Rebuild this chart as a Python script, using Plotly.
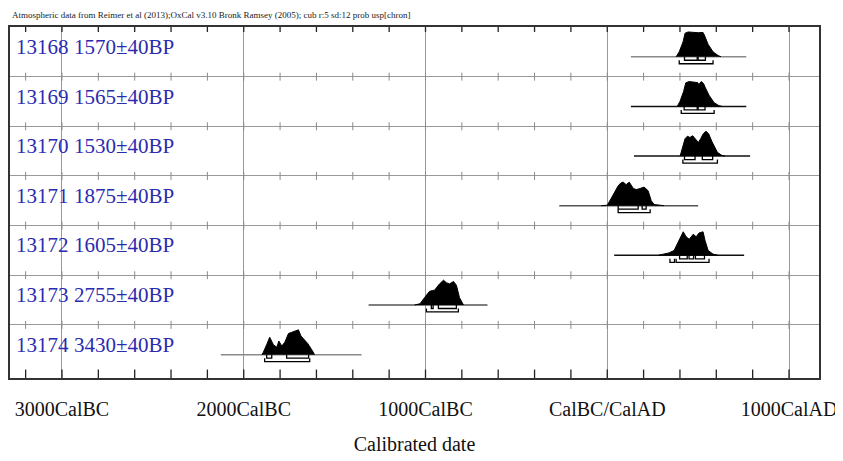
import numpy as np
import plotly.graph_objects as go

# ---------------- data ----------------
lab_ids = ["13168", "13169", "13170", "13171", "13172", "13173", "13174"]
bp_dates = ["1570±40BP", "1565±40BP", "1530±40BP", "1875±40BP", "1605±40BP", "2755±40BP", "3430±40BP"]

# plotted range of each calibration (baseline), calendar years (negative = BC)
plot_start = [130, 130, 147, -264, 38, -1313, -2126]
plot_end = [765, 765, 786, 500, 753, -659, -1352]

# probability distributions (relative heights)
dist_years = [
    [379, 396, 417, 428, 445, 472, 500, 527, 533, 555, 582, 610, 626],
    [385, 400, 420, 432, 450, 475, 498, 505, 510, 518, 530, 540, 560, 588, 615, 632],
    [401, 416, 428, 441, 455, 470, 483, 501, 514, 528, 543, 558, 575, 593, 606, 630, 648],
    [-33, 0, 22, 45, 60, 75, 88, 104, 121, 143, 159, 175, 187, 203, 225, 242, 258, 313],
    [280, 340, 368, 396, 418, 434, 451, 473, 489, 505, 527, 538, 555, 582, 610],
    [-1060, -1030, -1005, -978, -962, -950, -923, -901, -885, -868, -846, -830, -813, -791],
    [-1900, -1892, -1874, -1857, -1837, -1818, -1807, -1791, -1774, -1754, -1736, -1719, -1699, -1685, -1664, -1648, -1626, -1610],
]
dist_probs = [
    [0.0, 0.2, 0.6, 0.95, 1.0, 0.98, 0.97, 0.98, 0.9, 0.5, 0.2, 0.05, 0.0],
    [0.0, 0.2, 0.6, 0.95, 1.0, 0.98, 0.96, 0.85, 0.95, 1.0, 0.92, 0.75, 0.45, 0.15, 0.03, 0.0],
    [0.0, 0.4, 0.7, 0.8, 0.75, 0.82, 0.7, 0.55, 0.7, 0.9, 1.0, 0.9, 0.6, 0.35, 0.15, 0.03, 0.0],
    [0.0, 0.02, 0.3, 0.6, 0.8, 0.92, 0.95, 0.85, 0.95, 0.7, 0.65, 0.68, 0.7, 0.75, 0.6, 0.2, 0.05, 0.0],
    [0.0, 0.1, 0.2, 0.6, 0.95, 0.75, 0.65, 0.85, 0.75, 0.9, 0.95, 0.6, 0.2, 0.05, 0.0],
    [0.0, 0.05, 0.3, 0.55, 0.58, 0.6, 0.85, 1.0, 0.9, 0.85, 0.95, 0.8, 0.3, 0.0],
    [0.0, 0.1, 0.4, 0.7, 0.4, 0.3, 0.55, 0.35, 0.5, 0.85, 0.9, 0.95, 1.0, 0.75, 0.6, 0.45, 0.2, 0.0],
]

# 68.2% and 95.4% ranges
ranges68 = [
    [[425, 495], [500, 540]],
    [[423, 495], [500, 538]],
    [[425, 483], [523, 580]],
    [[60, 170], [192, 214]],
    [[398, 440], [450, 475], [485, 535]],
    [[-968, -958], [-929, -830]],
    [[-1874, -1846], [-1764, -1643]],
]
ranges95 = [
    [[396, 582]],
    [[407, 588]],
    [[416, 606]],
    [[60, 236]],
    [[345, 370], [379, 560]],
    [[-995, -819]],
    [[-1885, -1637]],
]
baseline_colors = ["#8a8a8a", "#111111", "#111111", "#555555", "#111111", "#555555", "#8a8a8a"]

tick_vals = [-3000, -2000, -1000, 0, 1000]
tick_text = ["3000CalBC", "2000CalBC", "1000CalBC", "CalBC/CalAD", "1000CalAD"]
minor_step = 200
x_range = [-3286, 1165]
n_rows = len(lab_ids)
header = ("Atmospheric data from Reimer et al (2013);OxCal v3.10 Bronk Ramsey (2005); "
          "cub r:5 sd:12 prob usp[chron]")

# ---------------- figure ----------------
fig = go.Figure()

BASE = 0.6      # baseline offset within a row
HEIGHT = 0.5    # max distribution height (row units)
L68 = 0.07
L95 = 0.14
Y_BOTTOM = n_rows + 0.07

minor_x = np.arange(-3200, x_range[1], minor_step)

# small ticks crossing row boundaries
tx, ty = [], []
for k in range(1, n_rows):
    for xv in minor_x:
        tx += [xv, xv, None]
        ty += [k - 0.08, k + 0.08, None]
fig.add_trace(go.Scatter(x=tx, y=ty, mode="lines", line=dict(color="#8a8a8a", width=1),
                         hoverinfo="skip", showlegend=False))

# frame ticks (top: downward, bottom: upward)
fx, fy = [], []
for xv in minor_x:
    fx += [xv, xv, None, xv, xv, None]
    fy += [0, 0.1, None, Y_BOTTOM, Y_BOTTOM - 0.17, None]
fig.add_trace(go.Scatter(x=fx, y=fy, mode="lines", line=dict(color="#222222", width=1.3),
                         hoverinfo="skip", showlegend=False))

for i in range(n_rows):
    yb = i + BASE
    # baseline
    fig.add_trace(go.Scatter(x=[plot_start[i], plot_end[i]], y=[yb, yb], mode="lines",
                             line=dict(color=baseline_colors[i], width=1.5),
                             hoverinfo="skip", showlegend=False))
    # distribution
    xs = dist_years[i]
    ys = [yb - p * HEIGHT for p in dist_probs[i]]
    fig.add_trace(go.Scatter(x=xs, y=ys, mode="lines", fill="toself", fillcolor="black",
                             line=dict(color="black", width=1), hoverinfo="skip",
                             showlegend=False))
    # range brackets
    bx, by = [], []
    for a, b in ranges68[i]:
        bx += [a, a, b, b, None]
        by += [yb, yb + L68, yb + L68, yb, None]
    for a, b in ranges95[i]:
        bx += [a, a, b, b, None]
        by += [yb + L68, yb + L95, yb + L95, yb + L68, None]
    fig.add_trace(go.Scatter(x=bx, y=by, mode="lines", line=dict(color="black", width=1.3),
                             hoverinfo="skip", showlegend=False))
    # labels
    fig.add_annotation(x=-3264, y=i + 0.4, text=lab_ids[i], showarrow=False,
                       xanchor="left", yanchor="middle",
                       font=dict(family="Liberation Serif", size=21, color="#2b2bb0"))
    fig.add_annotation(x=-2945, y=i + 0.4, text=bp_dates[i], showarrow=False,
                       xanchor="left", yanchor="middle",
                       font=dict(family="Liberation Serif", size=21, color="#2b2bb0"))

fig.add_annotation(x=0, y=1, xref="paper", yref="paper", xshift=0, yshift=12,
                   text=header, showarrow=False, xanchor="left", yanchor="middle",
                   font=dict(family="Liberation Serif", size=9, color="#222222"))

fig.update_xaxes(range=x_range, tickvals=tick_vals, ticktext=tick_text,
                 showgrid=True, gridcolor="#999999", gridwidth=1, zeroline=False,
                 showline=True, linecolor="#333333", linewidth=1.5, mirror=True,
                 ticks="", automargin=False,
                 ticklabelstandoff=12,
                 tickfont=dict(family="Liberation Serif", size=20, color="#111111"),
                 title=dict(text="Calibrated date", standoff=18,
                            font=dict(family="Liberation Serif", size=20, color="#111111")))
fig.update_yaxes(range=[Y_BOTTOM, 0], tickvals=list(range(1, n_rows)),
                 showticklabels=False, ticks="", showgrid=True, gridcolor="#999999",
                 gridwidth=1, zeroline=False, showline=True, linecolor="#333333",
                 linewidth=1.5, mirror=True, automargin=False)

# the page body adds an 8 px offset, so the figure is 8 px smaller than the window
fig.update_layout(width=835, height=453, margin=dict(l=2, r=24, t=19, b=83),
                  paper_bgcolor="white", plot_bgcolor="white", showlegend=False)

fig.write_html("out.html")
